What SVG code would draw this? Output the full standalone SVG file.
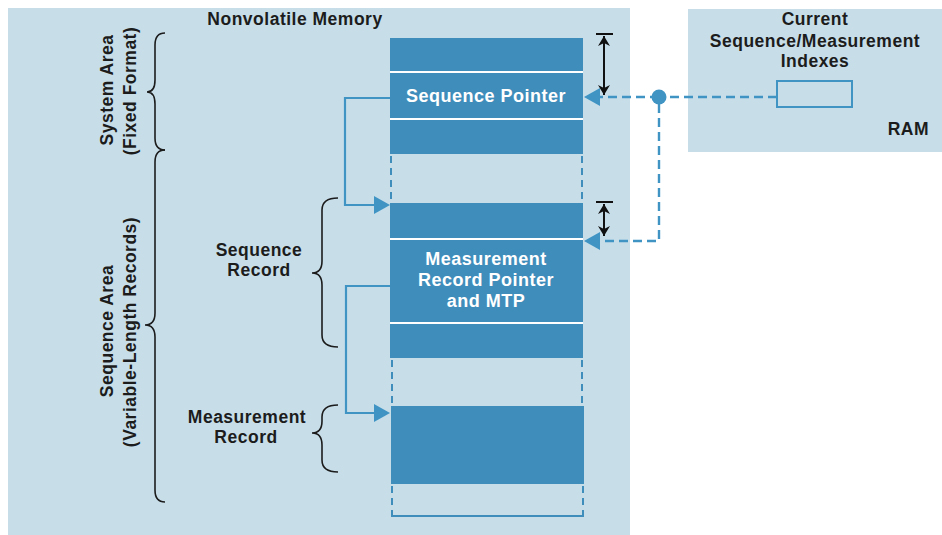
<svg xmlns="http://www.w3.org/2000/svg" width="942" height="535" viewBox="0 0 942 535">
<defs>
<style>
.lbl{font-family:"Liberation Sans",Arial,Helvetica,sans-serif;font-weight:bold;font-size:17.5px;letter-spacing:0.5px;fill:#1c1c1c;text-anchor:middle}
.wt{font-family:"Liberation Sans",Arial,Helvetica,sans-serif;font-weight:bold;font-size:18px;letter-spacing:0.5px;fill:#ffffff;text-anchor:middle}
.panel{fill:#c7dee9}
.blk{fill:#3f8dbb}
.sep{stroke:#ffffff;stroke-width:2}
.dside{stroke:#3f8dbb;stroke-width:2;stroke-dasharray:7 5;fill:none}
.brace{fill:none;stroke:#1c1c1c;stroke-width:1.6}
.link{fill:none;stroke:#3f94c4;stroke-width:2.2}
.dlink{fill:none;stroke:#3f94c4;stroke-width:2.4;stroke-dasharray:9 5}
.ahead{fill:#3f94c4}
.dim{stroke:#111;stroke-width:2;fill:none}
</style>
<marker id="dh" viewBox="0 0 10 14" refX="10" refY="7" markerWidth="10" markerHeight="14" markerUnits="userSpaceOnUse" orient="auto-start-reverse">
<path d="M0,1 L10,7 L0,13 L3,7 Z" fill="#111"/>
</marker>
</defs>

<g id="panel-nonvolatile">
<rect class="panel" x="8" y="8" width="622" height="527"/>
<text class="lbl" x="295" y="25">Nonvolatile Memory</text>
</g>

<g id="panel-ram">
<rect class="panel" x="688" y="9" width="254" height="143"/>
<text class="lbl" x="815" y="25">Current</text>
<text class="lbl" x="815" y="47">Sequence/Measurement</text>
<text class="lbl" x="815" y="67">Indexes</text>
<rect x="777" y="81" width="75" height="26" fill="none" stroke="#3f94c4" stroke-width="2"/>
<text class="lbl" x="929" y="135" style="text-anchor:end">RAM</text>
</g>

<g id="label-system-area">
<text class="lbl" transform="translate(113,90) rotate(-90)">System Area</text>
<text class="lbl" transform="translate(136,91) rotate(-90)">(Fixed Format)</text>
<path class="brace" d="M165,33 Q155,33 155,45 V80 Q155,92 147,92 Q155,92 155,104 V138 Q155,150 165,150"/>
</g>

<g id="label-sequence-area">
<text class="lbl" transform="translate(113,331) rotate(-90)">Sequence Area</text>
<text class="lbl" transform="translate(136,332) rotate(-90)">(Variable-Length Records)</text>
<path class="brace" d="M165,150 Q155,150 155,162 V313 Q155,325 145,325 Q155,325 155,337 V490 Q155,502 165,502"/>
</g>

<g id="label-sequence-record">
<text class="lbl" x="259" y="256">Sequence</text>
<text class="lbl" x="259" y="276">Record</text>
<path class="brace" d="M338,198 Q322,198 322,210 V261 Q322,273 312,273 Q322,273 322,285 V335 Q322,347 338,347"/>
</g>

<g id="label-measurement-record">
<text class="lbl" x="247" y="423">Measurement</text>
<text class="lbl" x="246" y="443">Record</text>
<path class="brace" d="M338,405 Q322,405 322,417 V421 Q322,433 312,433 Q322,433 322,445 V460 Q322,472 338,472"/>
</g>

<g id="system-blocks">
<rect class="blk" x="390" y="38" width="193" height="116"/>
<line class="sep" x1="390" y1="72" x2="583" y2="72"/>
<line class="sep" x1="390" y1="119" x2="583" y2="119"/>
<text class="wt" x="486" y="102">Sequence Pointer</text>
<line class="dside" x1="391" y1="156" x2="391" y2="203"/>
<line class="dside" x1="582" y1="156" x2="582" y2="203"/>
</g>

<g id="sequence-record-blocks">
<rect class="blk" x="390" y="203" width="193" height="155"/>
<line class="sep" x1="390" y1="239" x2="583" y2="239"/>
<line class="sep" x1="390" y1="323" x2="583" y2="323"/>
<text class="wt" x="486" y="265">Measurement</text>
<text class="wt" x="486" y="286">Record Pointer</text>
<text class="wt" x="486" y="307">and MTP</text>
<line class="dside" x1="392" y1="360" x2="392" y2="406"/>
<line class="dside" x1="582" y1="360" x2="582" y2="406"/>
</g>

<g id="measurement-record-block">
<rect class="blk" x="391" y="406" width="193" height="78"/>
<line class="dside" x1="392" y1="486" x2="392" y2="516"/>
<line class="dside" x1="583" y1="486" x2="583" y2="516"/>
<line x1="391" y1="516" x2="584" y2="516" stroke="#3f8dbb" stroke-width="2"/>
</g>

<g id="connectors">
<path class="link" d="M390,98 H345 V205 H376"/>
<polygon class="ahead" points="374,196 374,214 390,205"/>
<path class="link" d="M390,286 H346 V413 H376"/>
<polygon class="ahead" points="374,404 374,422 390,413"/>
<path class="dlink" d="M777,97 H665"/>
<path class="dlink" d="M659,97 H599"/>
<path class="dlink" d="M659,104 V241 H599"/>
<circle cx="659" cy="97" r="7.5" fill="#3f94c4"/>
<polygon class="ahead" points="600,88 600,106 584,97"/>
<polygon class="ahead" points="600,232 600,250 584,241"/>
<line class="dim" x1="596" y1="34" x2="613" y2="34"/>
<line class="dim" x1="604" y1="36" x2="604" y2="95" marker-start="url(#dh)" marker-end="url(#dh)"/>
<line class="dim" x1="596" y1="202" x2="613" y2="202"/>
<line class="dim" x1="604" y1="204" x2="604" y2="236" marker-start="url(#dh)" marker-end="url(#dh)"/>
</g>
</svg>
